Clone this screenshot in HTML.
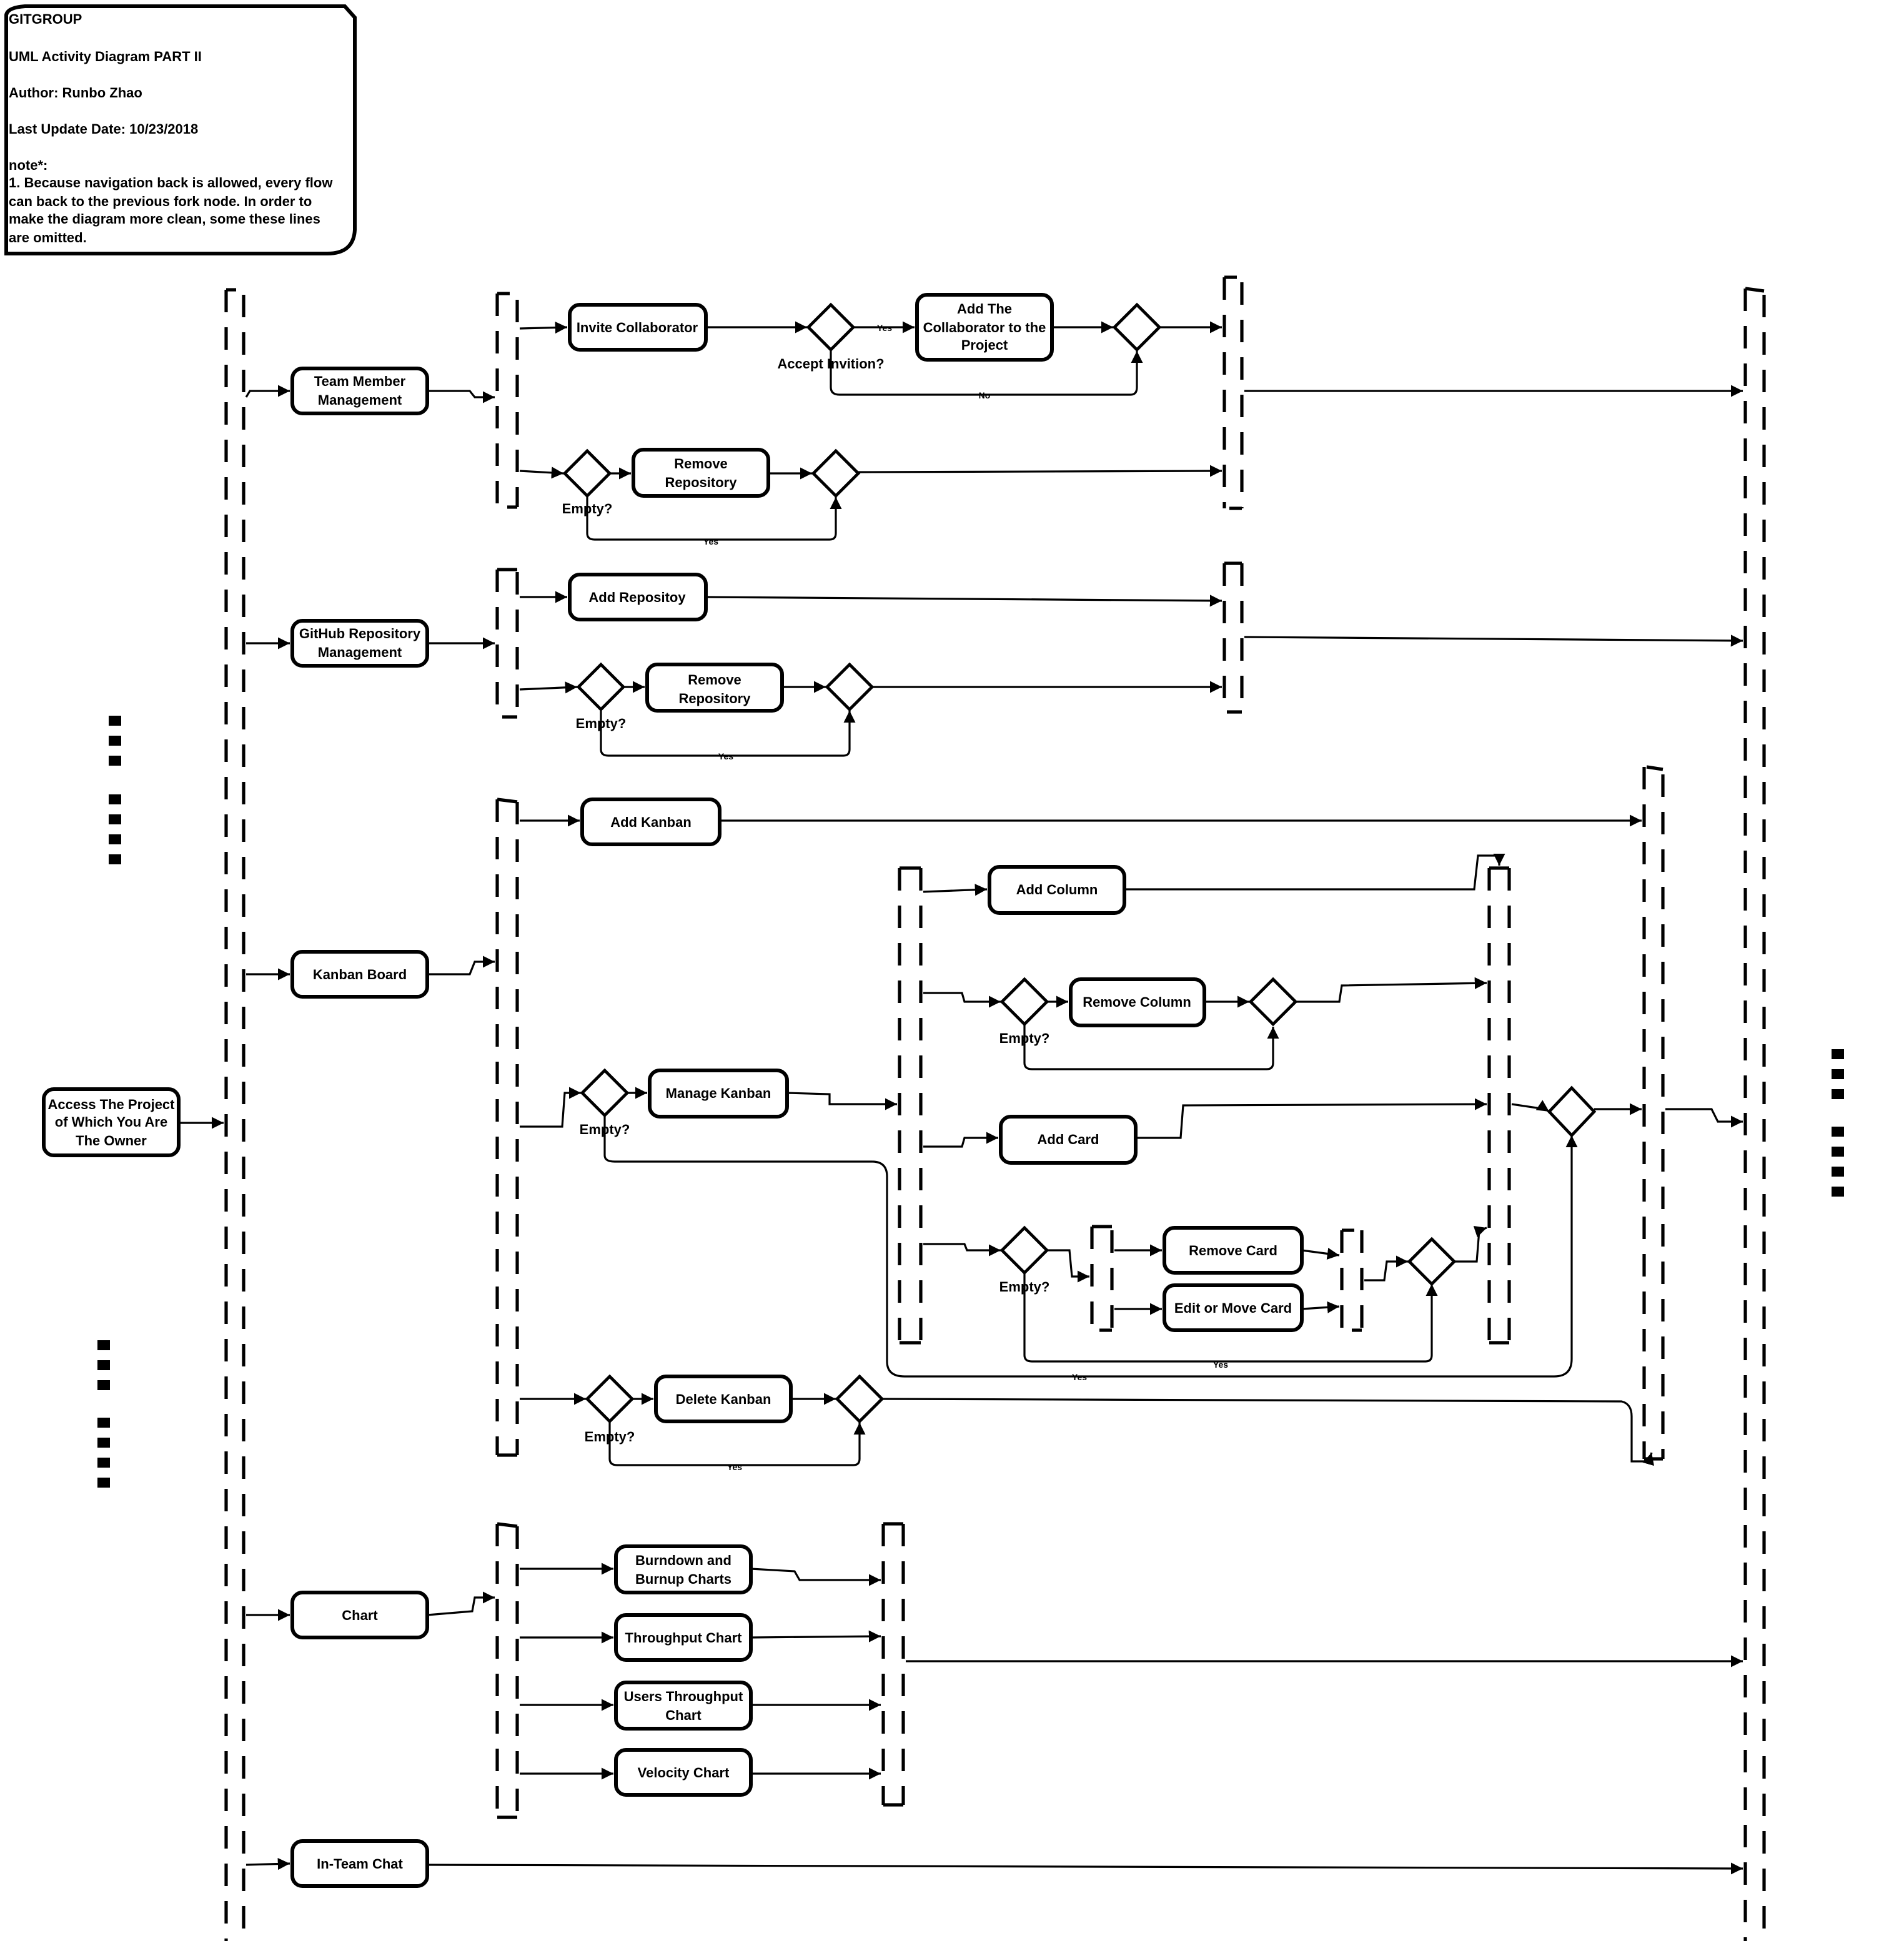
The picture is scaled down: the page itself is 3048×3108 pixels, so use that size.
<!DOCTYPE html>
<html><head><meta charset="utf-8"><style>
html,body{margin:0;padding:0;background:#fff}
svg{display:block}
text{font-family:"Liberation Sans Narrow","Liberation Sans",sans-serif;font-weight:bold;fill:#000}
.n{fill:#fff;stroke:#000;stroke-width:3}
.e{fill:none;stroke:#000;stroke-width:1.6}
.b{fill:none;stroke:#000;stroke-width:2.6;stroke-dasharray:18 12}
.t{fill:none;stroke:#000;stroke-width:2.6}
</style></head><body>
<svg width="3048" height="3108" viewBox="0 0 1524 1554" xmlns="http://www.w3.org/2000/svg">
<defs><marker id="a" viewBox="0 0 10 10" refX="10" refY="5" markerWidth="6" markerHeight="6" orient="auto"><path d="M0,0L10,5L0,10z"/></marker></defs>
<rect width="1524" height="1554" fill="#fff"/>

<!-- note -->
<path class="n" d="M5,12 Q6,6 20,5 L276,5 L284,14 L284,184 Q283,203 262,203 L5,203 Z"/>
<g font-size="11">
<text x="7" y="19">GITGROUP</text>
<text x="7" y="49">UML Activity Diagram PART II</text>
<text x="7" y="78">Author: Runbo Zhao</text>
<text x="7" y="107">Last Update Date: 10/23/2018</text>
<text x="7" y="136">note*:</text>
<text x="7" y="150">1. Because navigation back is allowed, every flow</text>
<text x="7" y="165">can back to the previous fork node. In order to</text>
<text x="7" y="179">make the diagram more clean, some these lines</text>
<text x="7" y="194">are omitted.</text>
</g>

<!-- bars -->
<g>
<line class="b" x1="181" y1="232" x2="181" y2="1565"/><line class="b" x1="195" y1="236" x2="195" y2="1565"/><path class="t" d="M181,232L189,232"/>
<line class="b" x1="398" y1="235" x2="398" y2="406"/><line class="b" x1="414" y1="240" x2="414" y2="406"/><path class="t" d="M398,235L408,235M406,406L414,406"/>
<line class="b" x1="980" y1="222" x2="980" y2="407"/><line class="b" x1="994" y1="226" x2="994" y2="407"/><path class="t" d="M980,222L990,222M984,407L994,407"/>
<line class="b" x1="398" y1="456" x2="398" y2="574"/><line class="b" x1="414" y1="458" x2="414" y2="574"/><path class="t" d="M398,456L414,456M402,574L414,574"/>
<line class="b" x1="980" y1="451" x2="980" y2="570"/><line class="b" x1="994" y1="451" x2="994" y2="570"/><path class="t" d="M980,451L994,451M982,570L994,570"/>
<line class="b" x1="398" y1="640" x2="398" y2="1165"/><line class="b" x1="414" y1="642" x2="414" y2="1165"/><path class="t" d="M398,640L414,642M398,1165L414,1165"/>
<line class="b" x1="720" y1="695" x2="720" y2="1075"/><line class="b" x1="737" y1="695" x2="737" y2="1075"/><path class="t" d="M720,695L737,695M720,1075L737,1075"/>
<line class="b" x1="1192" y1="695" x2="1192" y2="1075"/><line class="b" x1="1208" y1="695" x2="1208" y2="1075"/><path class="t" d="M1192,695L1208,695M1192,1075L1208,1075"/>
<line class="b" x1="1316" y1="614" x2="1316" y2="1168"/><line class="b" x1="1331" y1="620" x2="1331" y2="1168"/><path class="t" d="M1318,614L1331,616M1316,1168L1331,1168"/>
<line class="b" x1="874" y1="982" x2="874" y2="1065"/><line class="b" x1="890" y1="985" x2="890" y2="1065"/><path class="t" d="M874,982L890,982M880,1065L890,1065"/>
<line class="b" x1="1074" y1="985" x2="1074" y2="1065"/><line class="b" x1="1090" y1="985" x2="1090" y2="1065"/><path class="t" d="M1074,985L1084,985M1082,1065L1090,1065"/>
<line class="b" x1="398" y1="1220" x2="398" y2="1455"/><line class="b" x1="414" y1="1222" x2="414" y2="1455"/><path class="t" d="M398,1220L414,1222M398,1455L414,1455"/>
<line class="b" x1="707" y1="1220" x2="707" y2="1445"/><line class="b" x1="723" y1="1220" x2="723" y2="1445"/><path class="t" d="M707,1220L723,1220M707,1445L723,1445"/>
<line class="b" x1="1397" y1="231" x2="1397" y2="1565"/><line class="b" x1="1412" y1="236" x2="1412" y2="1565"/><path class="t" d="M1397,231L1412,233"/>
</g>

<!-- dots -->
<g fill="#000">
<rect x="87" y="573" width="10" height="8"/><rect x="87" y="589" width="10" height="8"/><rect x="87" y="605" width="10" height="8"/>
<rect x="87" y="636" width="10" height="8"/><rect x="87" y="652" width="10" height="8"/><rect x="87" y="668" width="10" height="8"/><rect x="87" y="684" width="10" height="8"/>
<rect x="78" y="1073" width="10" height="8"/><rect x="78" y="1089" width="10" height="8"/><rect x="78" y="1105" width="10" height="8"/>
<rect x="78" y="1135" width="10" height="8"/><rect x="78" y="1151" width="10" height="8"/><rect x="78" y="1167" width="10" height="8"/><rect x="78" y="1183" width="10" height="8"/>
<rect x="1466" y="840" width="10" height="8"/><rect x="1466" y="856" width="10" height="8"/><rect x="1466" y="872" width="10" height="8"/>
<rect x="1466" y="902" width="10" height="8"/><rect x="1466" y="918" width="10" height="8"/><rect x="1466" y="934" width="10" height="8"/><rect x="1466" y="950" width="10" height="8"/>
</g>

<!-- edges -->
<g class="e" marker-end="url(#a)">
<path d="M143,899L179,899"/>
<path d="M197,318L200,313L232,313"/>
<path d="M342,313L376,313L380,318L396,318"/>
<path d="M416,263L454,262"/>
<path d="M565,262L646,262"/>
<path d="M683,262L732,262"/>
<path d="M665,280L665,310Q665,316 672,316L905,316Q910,316 910,310L910,281"/>
<path d="M842,262L891,262"/>
<path d="M928,262L978,262"/>
<path d="M416,377L451,379"/>
<path d="M488,379L505,379"/>
<path d="M615,379L650,379"/>
<path d="M470,397L470,427Q470,432 476,432L664,432Q669,432 669,427L669,398"/>
<path d="M687,378L978,377"/>
<path d="M996,313L1395,313"/>
<path d="M197,515L232,515"/>
<path d="M342,515L396,515"/>
<path d="M416,478L454,478"/>
<path d="M565,478L978,481"/>
<path d="M416,552L462,550"/>
<path d="M499,550L516,550"/>
<path d="M626,550L661,550"/>
<path d="M698,550L978,550"/>
<path d="M481,568L481,600Q481,605 487,605L675,605Q680,605 680,600L680,569"/>
<path d="M996,510L1395,513"/>
<path d="M197,780L232,780"/>
<path d="M342,780L376,780L380,770L396,770"/>
<path d="M416,657L464,657"/>
<path d="M576,657L1314,657"/>
<path d="M416,902L450,902L452,875L465,875"/>
<path d="M502,875L518,875"/>
<path d="M630,875L664,876L664,884L718,884"/>
<path d="M484,893L484,925Q484,930 492,930L698,930Q710,930 710,942L710,1090Q710,1102 724,1102L1244,1102Q1258,1102 1258,1088L1258,909"/>
<path d="M739,714L790,712"/>
<path d="M900,712L1180,712L1183,685L1200,685L1200,693"/>
<path d="M739,795L770,795L772,802L801,802"/>
<path d="M838,802L855,802"/>
<path d="M964,802L1000,802"/>
<path d="M1037,802L1072,802L1074,789L1190,787"/>
<path d="M820,820L820,851Q820,856 826,856L1014,856Q1019,856 1019,851L1019,822"/>
<path d="M739,918L770,918L772,911L799,911"/>
<path d="M909,911L945,911L947,885L1190,884"/>
<path d="M1210,884L1237,888L1240,890"/>
<path d="M1276,888L1314,888"/>
<path d="M1333,888L1370,888L1375,898L1395,898"/>
<path d="M739,996L772,996L774,1001L801,1001"/>
<path d="M838,1001L856,1001L858,1022L872,1022"/>
<path d="M892,1001L930,1001"/>
<path d="M892,1048L930,1048"/>
<path d="M1042,1001L1072,1005"/>
<path d="M1042,1048L1072,1046"/>
<path d="M1092,1025L1108,1025L1110,1010L1127,1010"/>
<path d="M1164,1010L1182,1010L1184,985L1190,983"/>
<path d="M820,1019L820,1085Q820,1090 826,1090L1141,1090Q1146,1090 1146,1085L1146,1028"/>
<path d="M416,1120L469,1120"/>
<path d="M506,1120L523,1120"/>
<path d="M633,1120L669,1120"/>
<path d="M706,1120L1298,1122Q1306,1124 1306,1134L1306,1170L1320,1170L1322,1163"/>
<path d="M488,1138L488,1168Q488,1173 494,1173L683,1173Q688,1173 688,1168L688,1139"/>
<path d="M197,1293L232,1293"/>
<path d="M342,1293L378,1290L380,1279L396,1279"/>
<path d="M416,1256L491,1256"/>
<path d="M416,1311L491,1311"/>
<path d="M416,1365L491,1365"/>
<path d="M416,1420L491,1420"/>
<path d="M601,1256L636,1258L640,1265L705,1265"/>
<path d="M601,1311L705,1310"/>
<path d="M601,1365L705,1365"/>
<path d="M601,1420L705,1420"/>
<path d="M725,1330L1395,1330"/>
<path d="M197,1493L232,1492"/>
<path d="M342,1493L1395,1496"/>
</g>

<!-- nodes -->
<g>
<rect class="n" x="35" y="872" width="108" height="53" rx="8"/>
<rect class="n" x="234" y="295" width="108" height="36" rx="8"/>
<rect class="n" x="456" y="244" width="109" height="36" rx="8"/>
<rect class="n" x="734" y="236" width="108" height="52" rx="8"/>
<rect class="n" x="507" y="360" width="108" height="37" rx="8"/>
<rect class="n" x="456" y="460" width="109" height="36" rx="8"/>
<rect class="n" x="234" y="497" width="108" height="36" rx="8"/>
<rect class="n" x="518" y="532" width="108" height="37" rx="8"/>
<rect class="n" x="466" y="640" width="110" height="36" rx="8"/>
<rect class="n" x="792" y="694" width="108" height="37" rx="8"/>
<rect class="n" x="234" y="762" width="108" height="36" rx="8"/>
<rect class="n" x="857" y="784" width="107" height="37" rx="8"/>
<rect class="n" x="520" y="857" width="110" height="37" rx="8"/>
<rect class="n" x="801" y="894" width="108" height="37" rx="8"/>
<rect class="n" x="932" y="983" width="110" height="36" rx="8"/>
<rect class="n" x="932" y="1029" width="110" height="36" rx="8"/>
<rect class="n" x="525" y="1102" width="108" height="36" rx="8"/>
<rect class="n" x="493" y="1238" width="108" height="37" rx="8"/>
<rect class="n" x="493" y="1293" width="108" height="36" rx="8"/>
<rect class="n" x="493" y="1347" width="108" height="37" rx="8"/>
<rect class="n" x="493" y="1401" width="108" height="36" rx="8"/>
<rect class="n" x="234" y="1275" width="108" height="36" rx="8"/>
<rect class="n" x="234" y="1474" width="108" height="36" rx="8"/>
</g>
<g class="n" style="stroke-width:2.4">
<path d="M665,244L683,262L665,280L647,262Z"/>
<path d="M910,244L928,262L910,280L892,262Z"/>
<path d="M470,361L488,379L470,397L452,379Z"/>
<path d="M669,361L687,379L669,397L651,379Z"/>
<path d="M481,532L499,550L481,568L463,550Z"/>
<path d="M680,532L698,550L680,568L662,550Z"/>
<path d="M484,857L502,875L484,893L466,875Z"/>
<path d="M820,784L838,802L820,820L802,802Z"/>
<path d="M1019,784L1037,802L1019,820L1001,802Z"/>
<path d="M1258,871L1276,890L1258,909L1240,890Z"/>
<path d="M820,983L838,1001L820,1019L802,1001Z"/>
<path d="M1146,992L1164,1010L1146,1028L1128,1010Z"/>
<path d="M488,1102L506,1120L488,1138L470,1120Z"/>
<path d="M688,1102L706,1120L688,1138L670,1120Z"/>
</g>

<!-- node labels -->
<g font-size="11" text-anchor="middle">
<text x="89" y="888">Access The Project</text><text x="89" y="902">of Which You Are</text><text x="89" y="917">The Owner</text>
<text x="288" y="309">Team Member</text><text x="288" y="324">Management</text>
<text x="510" y="266">Invite Collaborator</text>
<text x="788" y="251">Add The</text><text x="788" y="266">Collaborator to the</text><text x="788" y="280">Project</text>
<text x="561" y="375">Remove</text><text x="561" y="390">Repository</text>
<text x="510" y="482">Add Repositoy</text>
<text x="288" y="511">GitHub Repository</text><text x="288" y="526">Management</text>
<text x="572" y="548">Remove</text><text x="572" y="563">Repository</text>
<text x="521" y="662">Add Kanban</text>
<text x="846" y="716">Add Column</text>
<text x="288" y="784">Kanban Board</text>
<text x="910" y="806">Remove Column</text>
<text x="575" y="879">Manage Kanban</text>
<text x="855" y="916">Add Card</text>
<text x="987" y="1005">Remove Card</text>
<text x="987" y="1051">Edit or Move Card</text>
<text x="579" y="1124">Delete Kanban</text>
<text x="547" y="1253">Burndown and</text><text x="547" y="1268">Burnup Charts</text>
<text x="547" y="1315">Throughput Chart</text>
<text x="547" y="1362">Users Throughput</text><text x="547" y="1377">Chart</text>
<text x="547" y="1423">Velocity Chart</text>
<text x="288" y="1297">Chart</text>
<text x="288" y="1496">In-Team Chat</text>
<text x="665" y="295">Accept Invition?</text>
<text x="470" y="411">Empty?</text>
<text x="481" y="583">Empty?</text>
<text x="484" y="908">Empty?</text>
<text x="820" y="835">Empty?</text>
<text x="820" y="1034">Empty?</text>
<text x="488" y="1154">Empty?</text>
</g>
<g font-size="7" text-anchor="middle" font-weight="normal">
<text x="708" y="265">Yes</text>
<text x="788" y="319">No</text>
<text x="569" y="436">Yes</text>
<text x="581" y="608">Yes</text>
<text x="864" y="1105">Yes</text>
<text x="977" y="1095">Yes</text>
<text x="588" y="1177">Yes</text>
</g>
</svg>
</body></html>
